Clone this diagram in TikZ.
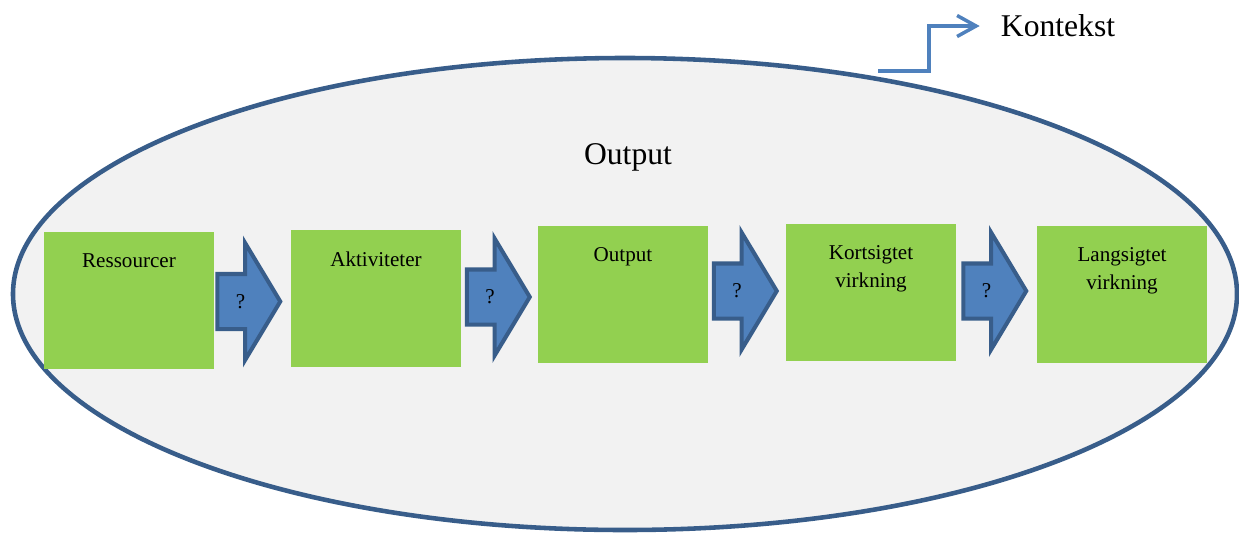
\documentclass[tikz,border=0pt]{standalone}
\usepackage{fontspec}
\setmainfont{Liberation Serif}
\usetikzlibrary{shapes.arrows,arrows.meta}
\definecolor{ovalline}{HTML}{385D8A}
\definecolor{ovalfill}{HTML}{F2F2F2}
\definecolor{phasegreen}{HTML}{92D050}
\definecolor{linkblue}{HTML}{4F81BD}

\begin{document}
\begin{tikzpicture}[
    phase/.style={fill=phasegreen, minimum width=3.4cm, minimum height=2.74cm, inner sep=0pt},
    phaselabel/.style={anchor=north, yshift=-9pt, align=center, font=\fontsize{12}{16}\selectfont},
    link/.style={single arrow, draw=ovalline, fill=linkblue, line width=2.3pt,
        minimum height=1.26cm, single arrow head extend=0.62cm, single arrow tip angle=118,
        inner xsep=0pt, inner ysep=0pt, text height=0.64cm, text depth=0.38cm,
        font=\fontsize{12}{14}\selectfont},
    bigtext/.style={font=\fontsize{18}{22}\selectfont}
]
    \useasboundingbox (0,0) rectangle (24.78,10.64);

    % Oval
    \draw[ovalline, fill=ovalfill, line width=2.6pt] (12.5,4.76) ellipse [x radius=12.24cm, y radius=4.72cm];
    \node[bigtext] (ovaltitle) at (12.56,7.50) {Output};

    % Kontekst
    \node[bigtext] (kontekst) at (21.16,10.12) {Kontekst};
    \coordinate (ctxfoot) at (17.56,9.22);
    \draw[linkblue, line width=2pt, -{Straight Barb[length=0.38cm, width=0.42cm]}]
        (ctxfoot) -- ++(1.02,0) |- ([xshift=-0.3cm]kontekst.west);

    % Phases
    \node[phase, label={[phaselabel]north:Ressourcer}] (ressourcer) at (2.58,4.63) {};
    \node[phase, label={[phaselabel]north:Aktiviteter}] (aktiviteter) at (7.52,4.67) {};
    \node[phase, label={[phaselabel]north:Output}] (output) at (12.46,4.75) {};
    \node[phase, label={[phaselabel]north:{Kortsigtet\\virkning}}] (kortsigtet) at (17.42,4.79) {};
    \node[phase, label={[phaselabel]north:{Langsigtet\\virkning}}] (langsigtet) at (22.44,4.75) {};

    % Links
    \node[link] (q1) at (4.81,4.61) {?};
    \node[link] (q2) at (9.80,4.70) {?};
    \node[link] (q3) at (14.74,4.82) {?};
    \node[link] (q4) at (19.73,4.82) {?};
\end{tikzpicture}
\end{document}
